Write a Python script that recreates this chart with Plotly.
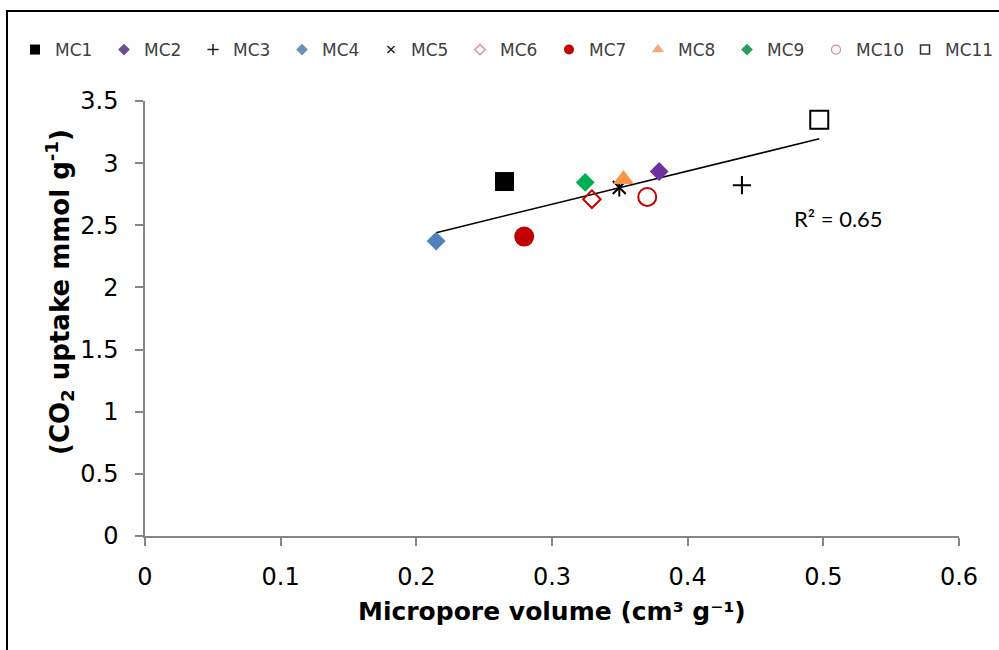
import numpy as np
import plotly.graph_objects as go

names = ["MC1", "MC2", "MC3", "MC4", "MC5", "MC6", "MC7", "MC8", "MC9", "MC10", "MC11"]
micropore = [0.265, 0.379, 0.440, 0.2146, 0.3496, 0.3294, 0.2795, 0.3527, 0.3245, 0.3702, 0.497]
co2_uptake = [2.852, 2.933, 2.823, 2.373, 2.804, 2.71, 2.409, 2.87, 2.845, 2.728, 3.35]
r2_label = "R² = 0.65"
x_ticks = [0, 0.1, 0.2, 0.3, 0.4, 0.5, 0.6]
y_ticks = [0, 0.5, 1, 1.5, 2, 2.5, 3, 3.5]

# marker styles per sample: (symbol, size, fill colour, line colour, line width)
styles = [
    ("square", 19, "#000000", "#000000", 0),
    ("diamond", 14.5, "#7030A0", "#7030A0", 0),
    ("cross-thin-open", 13, "#000000", "#000000", 2),
    ("diamond", 14.5, "#4F81BD", "#4F81BD", 0),
    ("x-thin-open", 13, "#000000", "#000000", 2),
    ("diamond-open", 13.5, "#C00000", "#C00000", 2),
    ("circle", 20, "#C00000", "#C00000", 0),
    ("triangle-up", 18.5, "#F79646", "#F79646", 0),
    ("diamond", 14.5, "#00B050", "#00B050", 0),
    ("circle-open", 18, "#C00000", "#C00000", 2),
    ("square-open", 18, "#000000", "#000000", 2),
]
legend_styles = [
    ("square", 10, "#000000", "#000000", 0),
    ("diamond", 9, "#6B4E8C", "#6B4E8C", 0),
    ("cross-thin-open", 8, "#222222", "#222222", 1.5),
    ("diamond", 9, "#6F8FB3", "#6F8FB3", 0),
    ("x-thin-open", 7, "#222222", "#222222", 1.5),
    ("diamond-open", 8, "#D89A9A", "#D89A9A", 1.5),
    ("circle", 10, "#C00000", "#C00000", 0),
    ("triangle-up", 11, "#F2A97A", "#F2A97A", 0),
    ("diamond", 9, "#2E9E5E", "#2E9E5E", 0),
    ("circle-open", 9, "#C98C8C", "#C98C8C", 1.2),
    ("square-open", 9, "#333333", "#333333", 1.5),
]

# layout geometry (pixels)
W, H = 999, 650
ML, MT, MB = 145, 101, 114
PLOT_W = 814
GS_W = W - ML           # right margin 0, x-domain shrunk to keep plot width
GS_H = H - MT - MB


def px_x(p):
    return (p - ML) / GS_W


def px_y(p):
    return (H - MB - p) / GS_H


fig = go.Figure()

# trend line (least squares fit over the data)
slope, intercept = np.polyfit(micropore, co2_uptake, 1)
xt = np.array([min(micropore), max(micropore)])
fig.add_trace(go.Scatter(x=xt, y=slope * xt + intercept, mode="lines",
                         line=dict(color="#000000", width=1.5),
                         showlegend=False, hoverinfo="skip"))

for i, n in enumerate(names):
    sym, sz, fc, lc, lw = styles[i]
    fig.add_trace(go.Scatter(x=[micropore[i]], y=[co2_uptake[i]], mode="markers",
                             name=n, showlegend=False,
                             marker=dict(symbol=sym, size=sz, color=fc,
                                         line=dict(color=lc, width=lw))))
    if n == "MC5":
        # Excel star marker: X plus vertical bar
        fig.add_trace(go.Scatter(x=[micropore[i]], y=[co2_uptake[i]], mode="markers",
                                 showlegend=False,
                                 marker=dict(symbol="line-ns-open", size=13, color="#000000",
                                             line=dict(color="#000000", width=2))))
    lsym, lsz, lfc, llc, llw = legend_styles[i]
    fig.add_trace(go.Scatter(x=[None], y=[None], mode="markers", name=n,
                             marker=dict(symbol=lsym, size=lsz, color=lfc,
                                         line=dict(color=llc, width=llw))))

fig.add_annotation(x=0.511, y=2.558, xref="x", yref="y", text=r2_label,
                   showarrow=False, font=dict(family="Lato", size=22, color="#000000"))

# axis titles
fig.add_annotation(x=px_x(59), y=px_y(292), xref="paper", yref="paper",
                   text="<b>(CO<sub>2</sub> uptake mmol g<sup>-1</sup>)</b>", textangle=-90,
                   showarrow=False, xanchor="center", yanchor="middle",
                   font=dict(family="DejaVu Sans", size=26, color="#000000"))
fig.add_annotation(x=px_x(552), y=px_y(611), xref="paper", yref="paper",
                   text="<b>Micropore volume (cm³ g⁻¹)</b>",
                   showarrow=False, xanchor="center", yanchor="middle",
                   font=dict(family="DejaVu Sans", size=25, color="#000000"))

# outer frame (cropped at right and bottom)
fig.add_shape(type="rect", xref="paper", yref="paper",
              x0=px_x(7), x1=px_x(1020), y0=px_y(680), y1=px_y(11),
              line=dict(color="#000000", width=2), layer="below")

axis_common = dict(showgrid=False, zeroline=False, showline=True,
                   linecolor="#868686", linewidth=1.5,
                   ticks="outside", ticklen=8, tickcolor="#868686", tickwidth=1.5,
                   tickfont=dict(family="DejaVu Sans", size=24, color="#000000"))

fig.update_layout(
    width=W, height=H,
    margin=dict(l=ML, r=0, t=MT, b=MB, autoexpand=False),
    paper_bgcolor="#FFFFFF", plot_bgcolor="#FFFFFF",
    xaxis=dict(range=[0, 0.6], domain=[0, PLOT_W / GS_W], tickvals=x_ticks,
               ticktext=[f"{v:g}" for v in x_ticks], ticklabelstandoff=10,
               **axis_common),
    yaxis=dict(range=[0, 3.5], tickvals=y_ticks,
               ticktext=[f"{v:g}" for v in y_ticks], ticklabelstandoff=12,
               **axis_common),
    legend=dict(orientation="h", x=px_x(15), xanchor="left",
                y=px_y(50), yanchor="middle",
                font=dict(family="DejaVu Sans", size=17, color="#404040"),
                itemwidth=30, entrywidth=44, entrywidthmode="pixels",
                bgcolor="rgba(0,0,0,0)", tracegroupgap=0),
    showlegend=True,
)

fig.write_html("out.html")
